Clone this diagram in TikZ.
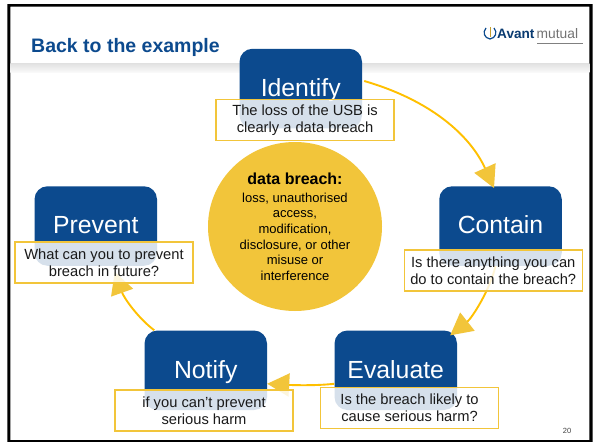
\documentclass[tikz,border=0pt]{standalone}
\usepackage{fontspec}
\setmainfont{Liberation Sans}
\usetikzlibrary{arrows.meta,shapes.geometric,calc}
\definecolor{navy}{HTML}{0C4A8E}
\definecolor{gold}{HTML}{F2C53A}
\definecolor{amber}{HTML}{FFC000}
\definecolor{ink}{HTML}{1A1A1A}
\tikzset{
  stage/.style={fill=navy,rounded corners=13pt,minimum width=122.5pt,minimum height=79.5pt,inner sep=0pt,text=white,text height=18pt,text depth=2.5pt,font=\fontsize{24.8}{28}\selectfont},
  note/.style={draw=gold,line width=1.3pt,fill=white,fill opacity=.83,draw opacity=1,text opacity=1,minimum width=178pt,minimum height=41pt,inner sep=0pt,align=center,text=ink,font=\fontsize{14.7}{17}\selectfont},
  flow/.style={draw=amber,line width=1.9pt,-{Triangle[length=22pt,width=23pt,color=gold,fill=gold]}},
}
\begin{document}
\begin{tikzpicture}[x=1pt,y=-1pt]
\useasboundingbox (0,0) rectangle (598,442);
\fill[white] (0,0) rectangle (598,442);
\fill[black,even odd rule] (7.3,4) rectangle (592.7,442) (10.3,6.7) rectangle (589.3,440);
\shade[top color=black!12,bottom color=black!2] (10.3,63) rectangle (589.3,72.5);
\node[anchor=base west,inner sep=0pt,text=navy,font=\bfseries\fontsize{19.5}{22}\selectfont] (title) at (31,52) {Back to the example};
% logo
\node[anchor=base west,inner sep=0pt,text=navy!80!black,font=\bfseries\fontsize{13.6}{15}\selectfont] (avant) at (497,38) {Avant};
\node[anchor=base west,inner sep=0pt,text=black!55,font=\fontsize{13.8}{15}\selectfont] (mutual) at (536.5,38) {mutual};
\draw[navy,line width=1.2pt] (486,28) .. controls (482.5,32) and (484,38) .. (490,39) .. controls (496,38) and (497.5,32) .. (494,28);
\draw[gold!80!black,line width=1pt] (490,27) -- (490,37);
\draw[black!50,line width=.6pt] (537,43) -- (583,43);
% stages
\node[stage] (identify) at (300.75,88.5) {Identify};
\node[stage] (contain) at (500.5,226) {Contain};
\node[stage] (prevent) at (95.75,226) {Prevent};
\node[stage] (notify) at (205.75,370.25) {Notify};
\node[stage] (evaluate) at (395.75,370.25) {Evaluate};
% centre
\node[ellipse,fill=gold,minimum width=174pt,minimum height=169pt,inner sep=0pt,align=center,text=black,font=\fontsize{13}{15.6}\selectfont] (centre) at (295,226.5) {{\bfseries\fontsize{16}{15.6}\selectfont data breach:}\\[2.5pt]loss, unauthorised\\access,\\modification,\\disclosure, or other\\misuse or\\interference};
% connectors
\draw[flow] ($(identify.east)+(2,-7.5)$) .. controls (430,100) and (470,135) .. ($(contain.north)+(-6.5,2)$);
\draw[flow] ($(contain.south)+(-5,0)$) .. controls (490,290) and (472,318) .. ($(evaluate.north east)+(-7,5)$);
\draw[flow] ($(evaluate.west)+(0,13.5)$) .. controls (315,386) and (290,385) .. ($(notify.east)+(0,13.5)$);
\draw[flow] ($(notify.north west)+(10,0)$) .. controls (138,318) and (124,298) .. ($(prevent.south)+(19,6)$);
% notes
\node[note] (n1) at (305,120.25) {The loss of the USB is\\clearly a data breach};
\node[note] (n2) at (493.25,270.5) {Is there anything you can\\do to contain the breach?};
\node[note] (n3) at (104,262.5) {What can you to prevent\\breach in future?};
\node[note] (n4) at (204,410.5) {if you can’t prevent\\serious harm};
\node[note] (n5) at (409.5,408) {Is the breach likely to\\cause serious harm?};
\node[text=black!75,inner sep=0pt,font=\fontsize{7.5}{9}\selectfont] (page) at (567,431) {20};
\end{tikzpicture}
\end{document}
